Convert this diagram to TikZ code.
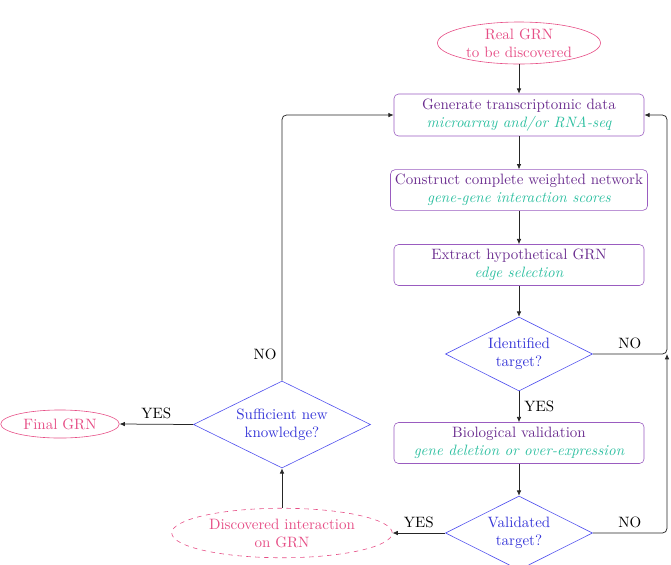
\documentclass[tikz,border=0pt]{standalone}
\usetikzlibrary{shapes.geometric,arrows.meta}
\definecolor{ptext}{HTML}{6B2D8F}
\definecolor{pbord}{HTML}{9A5CC0}
\definecolor{tealc}{HTML}{2DBFA0}
\definecolor{bluet}{HTML}{3535D8}
\definecolor{blueb}{HTML}{5050EE}
\definecolor{pinkc}{HTML}{E64E86}
\tikzset{
  procbox/.style={draw=pbord, rounded corners=3pt, text=ptext, align=center, minimum width=166.7pt, minimum height=28pt, inner sep=3pt},
  decide/.style={draw=blueb, diamond, aspect=2, inner sep=0pt, text=bluet, align=center},
  term/.style={draw=pinkc, ellipse, inner sep=0pt, text=pinkc, align=center},
  conn/.style={draw=black!85, line width=0.5pt, -{Latex[length=3.5pt,width=3pt]}},
  sub/.style={}
}
\newcommand{\subtxt}[1]{\textcolor{tealc}{\itshape #1}}
\begin{document}
\begin{tikzpicture}[x=0.6667pt,y=-0.6667pt]
\useasboundingbox (0,0) rectangle (671,564);
\node[term, minimum width=108.7pt, minimum height=28pt] (real) at (519,43) {Real GRN\\to be discovered};
\node[procbox] (gen) at (519,115) {Generate transcriptomic data\\\subtxt{microarray and/or RNA-seq}};
\node[procbox, minimum height=26.7pt] (cons) at (519,190) {Construct complete weighted network\\\subtxt{gene-gene interaction scores}};
\node[procbox, minimum height=27.3pt] (extr) at (519,265) {Extract hypothetical GRN\\\subtxt{edge selection}};
\node[decide, minimum width=98pt, minimum height=49.3pt] (ident) at (519,354) {Identified\\target?};
\node[procbox, minimum height=27.3pt] (bio) at (519,443) {Biological validation\\\subtxt{gene deletion or over-expression}};
\node[decide, minimum width=98pt, minimum height=49.3pt] (valid) at (519,533) {Validated\\target?};
\node[term, dashed, minimum width=147pt, minimum height=33pt] (disc) at (282,533) {Discovered interaction\\on GRN};
\node[decide, minimum width=118pt, minimum height=58pt] (suff) at (282,424.5) {Sufficient new\\knowledge?};
\node[term, minimum width=79pt, minimum height=18.7pt] (final) at (60,424) {Final GRN};
\coordinate (rc) at (667,354);

\draw[conn] (real) -- (gen);
\draw[conn] (gen) -- (cons);
\draw[conn] (cons) -- (extr);
\draw[conn] (extr) -- (ident);
\draw[conn] (ident) -- node[right] {YES} (bio);
\draw[conn] (bio) -- (valid);
\draw[conn, rounded corners=3pt] (ident.east) -- node[above] {NO} (rc) |- (gen.east);
\draw[conn, rounded corners=3pt] (valid.east) -- node[above] {NO} (valid.east -| rc) -- (rc);
\draw[conn] (valid.west) -- node[above] {YES} (disc.east);
\draw[conn] (disc.north) -- (suff.south);
\draw[conn] (suff.west) -- node[above] {YES} (final.east);
\draw[conn, rounded corners=3pt] (suff.north) -- node[left, pos=0.1] {NO} (suff.north |- gen.west) -- (gen.west);
\end{tikzpicture}
\end{document}
